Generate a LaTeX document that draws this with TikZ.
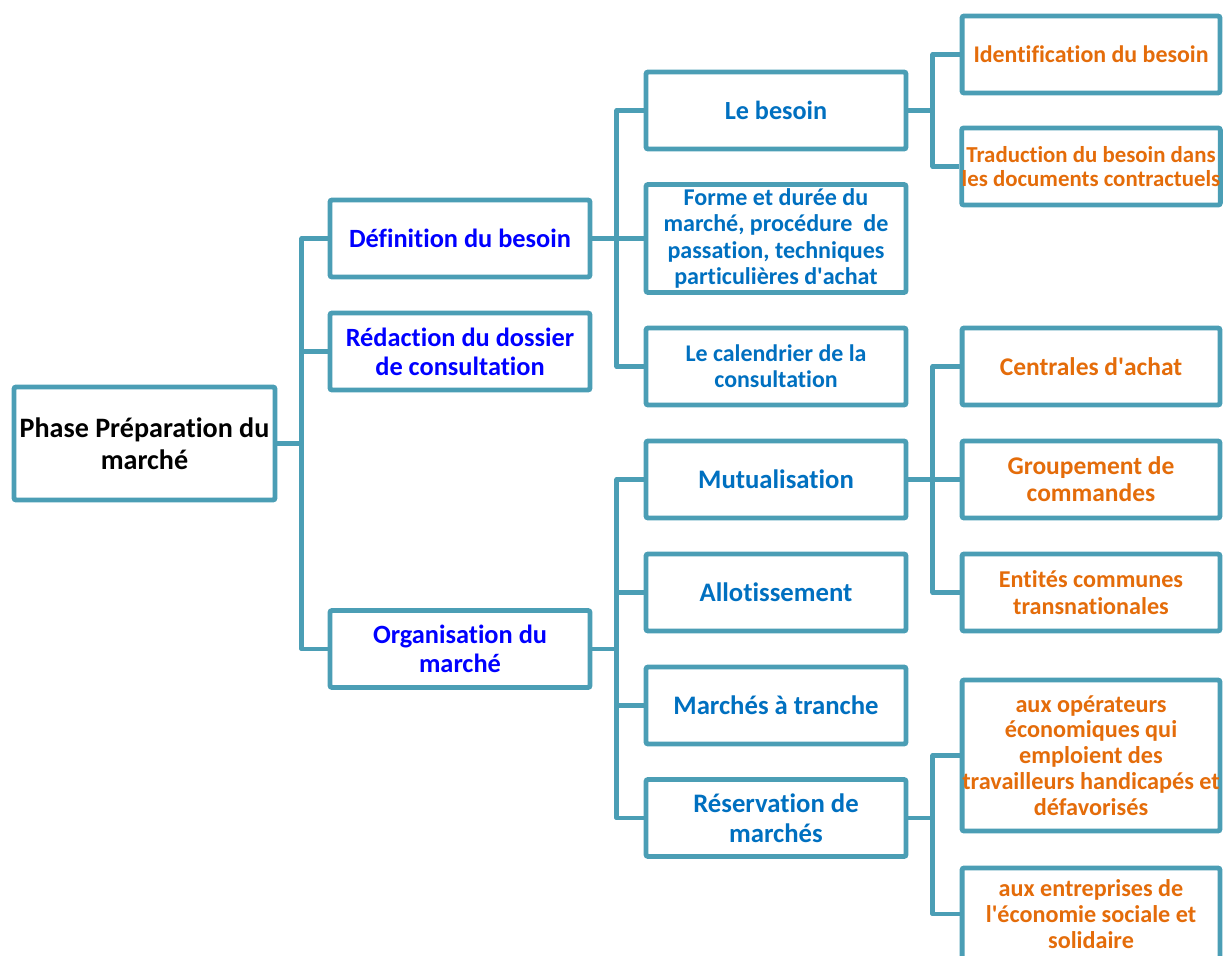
\documentclass[tikz,border=0pt]{standalone}
\usepackage{fontspec}
\setmainfont{Carlito}[Ligatures={NoCommon}]
\usepackage{tikz}
\usetikzlibrary{positioning}
\definecolor{boxteal}{RGB}{75,158,181}
\definecolor{deepblue}{RGB}{0,0,255}
\definecolor{midblue}{RGB}{0,112,192}
\definecolor{darkorange}{RGB}{228,108,10}
\newcommand{\boxfont}[2]{\bfseries\fontsize{#1}{#2}\selectfont}
\newcommand{\q}{\textquotesingle}
\tikzset{
  box/.style={draw=boxteal, line width=2.8pt, rounded corners=1.2pt, fill=white,
              align=center, inner sep=0pt, minimum width=5.2cm, minimum height=1.54cm},
  rootbox/.style={box, minimum width=5.22cm, minimum height=2.26cm, text=black,
                  font=\boxfont{16}{18.1}},
  lvlone/.style={box, text=deepblue, font=\boxfont{15}{16.4}},
  lvltwo/.style={box, text=midblue, font=\boxfont{15.2}{17}},
  lvlthree/.style={box, minimum width=5.16cm, text=darkorange, font=\boxfont{14.5}{15.3}},
  link/.style={draw=boxteal, line width=2.8pt, line join=round}
}

\begin{document}
\begin{tikzpicture}[x=0.02cm, y=-0.02cm]
  \useasboundingbox (0,0) rectangle (1223,956);
  \clip (0,0) rectangle (1223,956);

  % Root and first level
  \node[rootbox] (phase) at (144.5,443.5) {Phase Préparation du\\marché};
  \node[lvlone] (definition)   at (460,238.5) {Définition du besoin};
  \node[lvlone] (redaction)    at (460,351.5) {Rédaction du dossier\\de consultation};
  \node[lvlone] (organisation) at (460,649)   {Organisation du\\marché};

  % Second level
  \node[lvltwo, font=\boxfont{14.9}{17}] (besoin) at (776,110.5) {Le besoin};
  \node[lvltwo, font=\boxfont{13.7}{14.9}, minimum height=2.16cm] (forme) at (776,238.5)
    {Forme et durée du\\marché, procédure~ de\\passation, techniques\\particulières d\q achat};
  \node[lvltwo, font=\boxfont{13.6}{14.7}] (calendrier) at (776,366.5)
    {Le calendrier de la\\consultation};
  \node[lvltwo] (mutualisation) at (776,479.5) {Mutualisation};
  \node[lvltwo] (allotissement) at (776,592.5) {Allotissement};
  \node[lvltwo] (tranche)       at (776,705.5) {Marchés à tranche};
  \node[lvltwo] (reservation)   at (776,818)   {Réservation de\\marchés};

  % Third level
  \node[lvlthree, font=\boxfont{13.6}{15}] (identification) at (1091,54.5)
    {Identification du besoin};
  \node[lvlthree, font=\boxfont{13}{13.6}] (traduction) at (1091,166.5)
    {Traduction du besoin dans\\les documents contractuels};
  \node[lvlthree] (centrales)  at (1091,366.5) {Centrales d\q achat};
  \node[lvlthree] (groupement) at (1091,479.5) {Groupement de\\commandes};
  \node[lvlthree, font=\boxfont{13.75}{15.3}] (entites) at (1091,592.5)
    {Entités communes\\transnationales};
  \node[lvlthree, font=\boxfont{13.8}{14.7}, minimum height=3.02cm] (operateurs) at (1091,755.5)
    {aux opérateurs\\économiques qui\\emploient des\\travailleurs handicapés et\\défavorisés};
  \node[lvlthree, font=\boxfont{13.75}{14.7}, minimum height=1.84cm] (entreprises) at (1091,914)
    {aux entreprises de\\l\q économie sociale et\\solidaire};

  % Links
  \draw[link] (phase.east) -- ++(24.5,0) coordinate (rootfork);
  \draw[link] (definition.west) -| (rootfork) |- (organisation.west);
  \draw[link] (rootfork) |- (redaction.west);

  \draw[link] (definition.east) -- ++(24.5,0) coordinate (defork);
  \draw[link] (besoin.west) -| (defork) |- (calendrier.west);
  \draw[link] (defork) -- (forme.west);

  \draw[link] (organisation.east) -- ++(24.5,0) coordinate (orgfork);
  \draw[link] (mutualisation.west) -| (orgfork) |- (reservation.west);
  \draw[link] (orgfork) |- (allotissement.west);
  \draw[link] (orgfork) |- (tranche.west);

  \draw[link] (besoin.east) -- ++(24.5,0) coordinate (besfork);
  \draw[link] (identification.west) -| (besfork) |- (traduction.west);

  \draw[link] (mutualisation.east) -- ++(24.5,0) coordinate (mutfork);
  \draw[link] (centrales.west) -| (mutfork) |- (entites.west);
  \draw[link] (mutfork) -- (groupement.west);

  \draw[link] (reservation.east) -- ++(24.5,0) coordinate (resfork);
  \draw[link] (operateurs.west) -| (resfork) |- (entreprises.west);
\end{tikzpicture}
\end{document}
